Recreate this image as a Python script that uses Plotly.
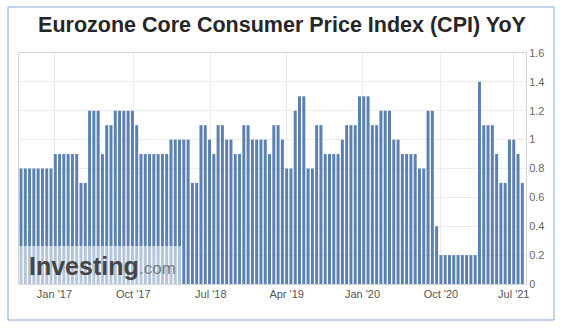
import plotly.graph_objects as go

# ---- data ----
cpi_yoy = [
    0.8, 0.8, 0.8, 0.8, 0.8, 0.8, 0.8, 0.8,
    0.9, 0.9, 0.9, 0.9, 0.9, 0.9,
    0.7, 0.7,
    1.2, 1.2, 1.2,
    0.9,
    1.1, 1.1,
    1.2, 1.2, 1.2, 1.2, 1.2,
    1.1,
    0.9, 0.9, 0.9, 0.9, 0.9, 0.9, 0.9,
    1.0, 1.0, 1.0, 1.0, 1.0,
    0.7, 0.7,
    1.1, 1.1,
    1.0,
    0.9,
    1.1, 1.1,
    1.0, 1.0,
    0.9, 0.9,
    1.1, 1.1,
    1.0, 1.0, 1.0, 1.0,
    0.9,
    1.1, 1.1,
    1.0,
    0.8, 0.8,
    1.2,
    1.3, 1.3,
    0.8, 0.8,
    1.1, 1.1,
    0.9, 0.9, 0.9, 0.9,
    1.0,
    1.1, 1.1, 1.1,
    1.3, 1.3, 1.3,
    1.1, 1.1,
    1.2, 1.2, 1.2,
    1.0, 1.0,
    0.9, 0.9, 0.9, 0.9,
    0.8, 0.8,
    1.2, 1.2,
    0.4,
    0.2, 0.2, 0.2, 0.2, 0.2, 0.2, 0.2, 0.2, 0.2,
    1.4,
    1.1, 1.1, 1.1,
    0.9,
    0.7, 0.7,
    1.0, 1.0,
    0.9,
    0.7,
]
release_index = list(range(len(cpi_yoy)))

tick_labels = ["Jan '17", "Oct '17", "Jul '18", "Apr '19", "Jan '20", "Oct '20", "Jul '21"]
tick_positions = [7.8, 26.2, 44.3, 62.0, 79.7, 98.0, 115.0]

title_text = "Eurozone Core Consumer Price Index (CPI) YoY"

FONT = "Liberation Sans, Arial, sans-serif"
BAR = "#5b80b2"

fig = go.Figure()
fig.add_trace(go.Bar(
    x=release_index, y=cpi_yoy,
    marker=dict(color=BAR, line=dict(width=0)),
    hoverinfo="y",
))

fig.update_layout(
    width=567, height=328,
    margin=dict(l=19, r=41, t=53, b=44),
    paper_bgcolor="white", plot_bgcolor="white",
    showlegend=False,
    bargap=0.3,
    font=dict(family=FONT, size=11, color="#555555"),
    title=dict(
        text="<b>" + title_text + "</b>",
        x=(37 + 527) / 2 / 567, xanchor="center", xref="container",
        y=1 - 24.5 / 328, yanchor="middle", yref="container",
        font=dict(family=FONT, size=21.5, color="#262626"),
    ),
    xaxis=dict(
        range=[-0.47, 117.86],
        tickmode="array", tickvals=tick_positions, ticktext=tick_labels,
        showgrid=True, gridcolor="#ececec", gridwidth=1,
        zeroline=False, showline=True, linecolor="#d6d6d6", mirror=True,
        ticks="", tickfont=dict(size=11, color="#555555"),
        fixedrange=True,
    ),
    yaxis=dict(
        side="right", range=[0, 1.6], dtick=0.2, tick0=0,
        showgrid=True, gridcolor="#ececec", gridwidth=1,
        zeroline=False, showline=True, linecolor="#d6d6d6", mirror=True,
        ticks="", tickfont=dict(size=11, color="#666666"),
        fixedrange=True,
    ),
)

# outer frame
fig.add_shape(type="rect", xref="paper", yref="paper",
              x0=(8 - 19) / 507, x1=(554 - 19) / 507,
              y0=(284 - 320) / 231, y1=(284 - 7) / 231,
              line=dict(color="#86aadb", width=1), fillcolor="rgba(0,0,0,0)",
              layer="below")

# watermark box
fig.add_shape(type="rect", xref="paper", yref="paper",
              x0=0, x1=(182 - 19) / 507, y0=0, y1=(284 - 246) / 231,
              line=dict(width=0), fillcolor="rgba(255,255,255,0.55)", layer="above")

fig.add_annotation(text="<b>Investing</b>", xref="paper", yref="paper",
                   x=(27 - 19) / 507, y=(284 - 266) / 231,
                   xanchor="left", yanchor="middle", showarrow=False,
                   font=dict(family=FONT, size=25, color="#454545"))
fig.add_annotation(text=".com", xref="paper", yref="paper",
                   x=(137 - 19) / 507, y=(284 - 268.5) / 231,
                   xanchor="left", yanchor="middle", showarrow=False,
                   font=dict(family=FONT, size=17, color="#7a7a7a"))

fig.write_html("out.html")
